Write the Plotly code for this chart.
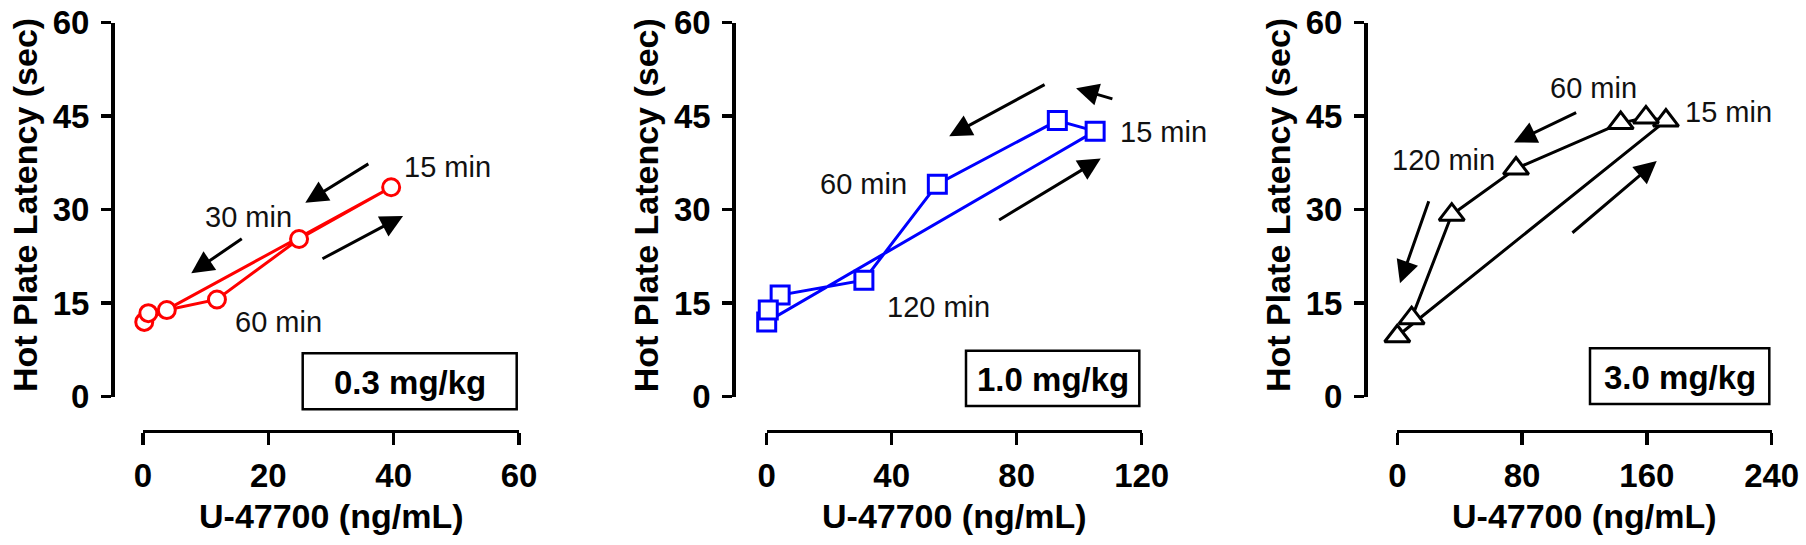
import plotly.graph_objects as go

W, H = 1806, 545
FONT = "Liberation Sans"

# ---------------- data ----------------
p1_x = [0.2, 39.6, 24.9, 11.8, 3.8, 0.85]
p1_y = [12.0, 33.6, 25.3, 15.6, 13.9, 13.4]
p2_x = [0.0, 105.1, 93.0, 54.6, 31.1, 4.3, 0.5]
p2_y = [12.0, 42.6, 44.3, 34.1, 18.7, 16.3, 13.9]
p3_x = [0.0, 172.2, 159.4, 143.2, 76.1, 34.9, 9.2]
p3_y = [9.7, 44.3, 44.8, 43.9, 36.6, 29.2, 12.6]

y_ticks = [0, 15, 30, 45, 60]
x_ticks = [[0, 20, 40, 60], [0, 40, 80, 120], [0, 80, 160, 240]]
dose_labels = ["0.3 mg/kg", "1.0 mg/kg", "3.0 mg/kg"]
x_title = "U-47700 (ng/mL)"
y_title = "Hot Plate Latency (sec)"

# time-point labels: (panel, text, x, y, xanchor)
time_labels = [
    (0, "15 min", 41.3, 36.9, "left"),
    (0, "30 min", 16.8, 28.9, "center"),
    (0, "60 min", 21.6, 12.0, "center"),
    (1, "15 min", 112.3, 42.5, "left"),
    (1, "60 min", 45.6, 34.2, "right"),
    (1, "120 min", 37.9, 14.4, "left"),
    (2, "60 min", 125.6, 49.6, "center"),
    (2, "15 min", 182.9, 45.7, "left"),
    (2, "120 min", 63.7, 38.0, "right"),
]
# direction arrows: (panel, tail_x, tail_y, head_x, head_y)
arrows = [
    (0, 36.2, 37.5, 25.9, 31.1),
    (0, 16.0, 25.5, 7.7, 19.8),
    (0, 28.4, 22.0, 41.5, 29.0),
    (1, 89.4, 50.2, 58.4, 41.8),
    (1, 111.1, 47.7, 99.0, 49.5),
    (1, 73.9, 28.2, 106.9, 38.2),
    (2, 115.6, 45.7, 74.8, 40.8),
    (2, 111.3, 26.1, 166.3, 37.8),
    (2, 20.5, 31.6, 1.7, 18.2),
]

# ---------------- geometry (pixels) ----------------
yaxis_px = [112, 733.3, 1365]
x0_px = [143, 766.7, 1397.3]
x1_px = [519, 1141.7, 1771.7]
ytop_px, ybot_px, xaxis_py = 22.7, 396.7, 430.7
boxes_px = [(302.7, 353.3, 516.7, 409.3), (966, 350.7, 1139.3, 406), (1590, 348.3, 1769.3, 404)]

def px(x):
    return x / W

def py(y):
    return 1 - y / H

series = [
    (p1_x, p1_y, "#ff0000", "circle", 17),
    (p2_x, p2_y, "#0000ff", "square", 18),
    (p3_x, p3_y, "#000000", "triangle-up", 22),
]

fig = go.Figure()
for i, (xs, ys, col, sym, sz) in enumerate(series):
    fig.add_trace(go.Scatter(
        x=xs, y=ys, mode="lines+markers",
        xaxis=f"x{i+1 if i else ''}", yaxis=f"y{i+1 if i else ''}",
        line=dict(color=col, width=3),
        marker=dict(symbol=sym, size=sz, color="white", line=dict(color=col, width=3)),
        cliponaxis=False, showlegend=False, hoverinfo="skip",
    ))

layout = dict(
    width=W, height=H, margin=dict(l=0, r=0, t=0, b=0, pad=0, autoexpand=False),
    paper_bgcolor="white", plot_bgcolor="white", showlegend=False,
)
annotations = []
shapes = []
for i in range(3):
    sx = str(i + 1) if i else ""
    layout[f"xaxis{sx}"] = dict(
        domain=[px(x0_px[i]), px(x1_px[i])], range=[0, x_ticks[i][-1]],
        anchor="free", position=py(xaxis_py), automargin=False,
        showline=True, linewidth=3.5, linecolor="black",
        ticks="outside", ticklen=12, tickwidth=3.5, tickcolor="black",
        tickvals=x_ticks[i], ticklabelstandoff=2,
        tickfont=dict(family=FONT, size=33, color="black", weight="bold"),
        showgrid=False, zeroline=False, fixedrange=True,
    )
    layout[f"yaxis{sx}"] = dict(
        domain=[py(ybot_px), py(ytop_px)], range=[0, 60],
        anchor="free", position=px(yaxis_px[i]), automargin=False,
        showline=True, linewidth=3.5, linecolor="black",
        ticks="outside", ticklen=10, tickwidth=3.5, tickcolor="black",
        tickvals=y_ticks, ticklabelstandoff=5,
        tickfont=dict(family=FONT, size=33, color="black", weight="bold"),
        showgrid=False, zeroline=False, fixedrange=True,
    )
    # axis titles
    annotations.append(dict(
        text=x_title, xref="paper", yref="paper",
        x=px((x0_px[i] + x1_px[i]) / 2), y=py(516), xanchor="center", yanchor="middle",
        showarrow=False, font=dict(family=FONT, size=34, color="black", weight="bold"),
    ))
    annotations.append(dict(
        text=y_title, xref="paper", yref="paper", textangle=-90,
        x=px(yaxis_px[i] - 87), y=py(205), xanchor="center", yanchor="middle",
        showarrow=False, font=dict(family=FONT, size=34, color="black", weight="bold"),
    ))
    # dose box
    bx0, by0, bx1, by1 = boxes_px[i]
    shapes.append(dict(type="rect", xref="paper", yref="paper",
                       x0=px(bx0), x1=px(bx1), y0=py(by1), y1=py(by0),
                       line=dict(color="black", width=2.5), fillcolor="rgba(0,0,0,0)"))
    annotations.append(dict(
        text=dose_labels[i], xref="paper", yref="paper",
        x=px((bx0 + bx1) / 2), y=py((by0 + by1) / 2 + 1), xanchor="center", yanchor="middle",
        showarrow=False, font=dict(family=FONT, size=33, color="black", weight="bold"),
    ))

for (p, t, x, y, xa) in time_labels:
    sx = str(p + 1) if p else ""
    annotations.append(dict(
        text=t, xref=f"x{sx}", yref=f"y{sx}", x=x, y=y, xanchor=xa, yanchor="middle",
        showarrow=False, font=dict(family=FONT, size=29, color="#111111"),
    ))

for (p, tx, ty, hx, hy) in arrows:
    sx = str(p + 1) if p else ""
    annotations.append(dict(
        text="", xref=f"x{sx}", yref=f"y{sx}", axref=f"x{sx}", ayref=f"y{sx}",
        x=hx, y=hy, ax=tx, ay=ty, showarrow=True,
        arrowhead=2, arrowsize=1.5, arrowwidth=3, arrowcolor="black", standoff=0,
    ))

layout["annotations"] = annotations
layout["shapes"] = shapes
fig.update_layout(**layout)
fig.write_html(
    "out.html",
    config={"displayModeBar": False, "staticPlot": True},
    post_script="document.body.style.margin='0';document.body.style.padding='0';"
                "document.body.style.overflow='hidden';",
)
